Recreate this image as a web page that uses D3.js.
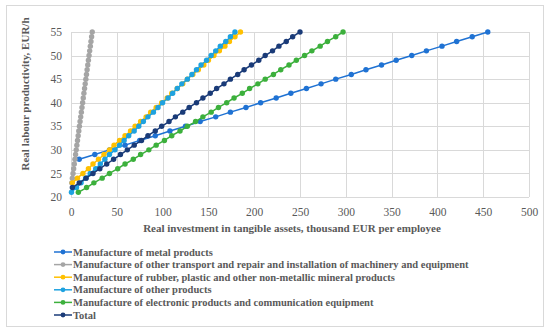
<!DOCTYPE html>
<html>
<head>
<meta charset="utf-8">
<script src="https://cdn.jsdelivr.net/npm/d3@7"></script>
<style>
  body { margin: 0; background: #fff; }
  svg { display: block; }
  text { font-family: "Liberation Serif", "Times New Roman", serif; fill: #595959; }
</style>
</head>
<body>
<div id="chart"></div>
<script>
// values: x = investment, y = productivity (one point per EUR/h)
const seriesNames = [
  "Manufacture of metal products",
  "Manufacture of other transport  and repair and installation of machinery and equipment",
  "Manufacture of rubber, plastic and other non-metallic mineral products",
  "Manufacture of other products",
  "Manufacture of electronic products and communication equipment",
  "Total"
];
const seriesColors = ["#1f72d3", "#a5a5a5", "#ffc000", "#1ea2e0", "#3cb03c", "#1a3b78"];

const yStart = [28, 23, 23, 21, 21, 22];

const metalX = [9, 26, 42, 59, 75, 92, 108, 125, 141, 158, 174, 191, 207, 224,
  240, 257, 273, 289, 306, 322, 339, 355, 372, 388, 405, 421, 438, 455];
const transportX = [0.8, 1.5, 2.2, 2.9, 3.6, 4.3, 5.0, 5.7, 6.4, 7.1, 7.8, 8.5, 9.2,
  9.9, 10.6, 11.3, 12.0, 12.7, 13.4, 14.1, 14.8, 15.5, 16.2, 16.9, 17.6, 18.3, 19.0,
  19.7, 20.4, 21.1, 21.8, 22.5, 23.2];
const rubberX = [1.5, 7, 13, 19, 24, 30, 36, 42, 47, 53, 59, 65, 70, 76, 82, 87,
  93, 99, 105, 110, 116, 122, 127, 133, 139, 145, 150, 156, 162, 168, 173, 179, 185];
const otherX = [0.5, 6, 11, 16, 21, 27, 32, 37, 42, 48, 53, 58, 63, 69, 74, 79, 84,
  90, 95, 100, 106, 111, 116, 121, 127, 132, 137, 142, 148, 153, 158, 163, 169, 174, 179];
const electronicX = [8, 17, 25, 34, 42, 51, 59, 68, 76, 85, 93, 102, 110, 119, 127,
  136, 144, 153, 161, 170, 178, 187, 195, 204, 212, 221, 229, 238, 246, 255, 263,
  272, 280, 289, 297];
const totalX = [1.5, 9, 16.5, 24, 31.5, 39, 46.5, 54, 61.5, 69, 77, 84, 92, 99, 107,
  114, 122, 129, 137, 144, 152, 159, 167, 174, 182, 189, 197, 205, 212, 220, 227,
  235, 242, 250];

const seriesX = [metalX, transportX, rubberX, otherX, electronicX, totalX];

const xTicks = [0, 50, 100, 150, 200, 250, 300, 350, 400, 450, 500];
const yTicks = [20, 25, 30, 35, 40, 45, 50, 55];

const width = 550, height = 333;
const plot = { left: 71, right: 529, top: 32, bottom: 197 };

const svg = d3.select("#chart").append("svg")
  .attr("width", width)
  .attr("height", height);

svg.append("rect")
  .attr("x", 6.5).attr("y", 5.5)
  .attr("width", 537).attr("height", 321)
  .attr("fill", "#fff")
  .attr("stroke", "#d9d9d9");

const x = d3.scaleLinear().domain([0, 500]).range([plot.left, plot.right]);
const y = d3.scaleLinear().domain([20, 55]).range([plot.bottom, plot.top]);

const grid = svg.append("g").attr("class", "grid");
grid.selectAll(".vgrid").data(xTicks).join("line")
  .attr("x1", (d) => Math.round(x(d)) + 0.5).attr("x2", (d) => Math.round(x(d)) + 0.5)
  .attr("y1", plot.top).attr("y2", plot.bottom)
  .attr("stroke", "#d9d9d9");
grid.selectAll(".hgrid").data(yTicks).join("line")
  .attr("y1", (d) => Math.round(y(d)) + 0.5).attr("y2", (d) => Math.round(y(d)) + 0.5)
  .attr("x1", plot.left).attr("x2", plot.right)
  .attr("stroke", "#d9d9d9");

// tick labels via axes, with domain and tick lines hidden
const xAxis = svg.append("g")
  .attr("transform", `translate(0,${plot.bottom})`)
  .call(d3.axisBottom(x).tickValues(xTicks).tickSize(0).tickPadding(11));
const yAxis = svg.append("g")
  .attr("transform", `translate(${plot.left},0)`)
  .call(d3.axisLeft(y).tickValues(yTicks).tickSize(0).tickPadding(9));
[xAxis, yAxis].forEach((g) => {
  g.select(".domain").remove();
  g.selectAll("text")
    .style("font-family", '"Liberation Serif", serif')
    .style("font-size", "11.5px")
    .attr("fill", "#595959");
});

svg.append("text")
  .attr("transform", "translate(29,94) rotate(-90)")
  .attr("text-anchor", "middle")
  .style("font-size", "11px")
  .style("font-weight", "bold")
  .text("Real labour productivity, EUR/h");

svg.append("text")
  .attr("x", 292).attr("y", 232)
  .attr("text-anchor", "middle")
  .style("font-size", "11px")
  .style("font-weight", "bold")
  .text("Real investment in tangible assets, thousand EUR per employee");

const series = seriesNames.map((name, i) => ({
  name,
  color: seriesColors[i],
  points: seriesX[i].map((v, j) => ({ x: v, y: yStart[i] + j }))
}));

const line = d3.line().x((d) => x(d.x)).y((d) => y(d.y));

const lines = svg.append("g").attr("class", "series")
  .selectAll("g").data(series).join("g");

lines.append("path")
  .attr("d", (d) => line(d.points))
  .attr("fill", "none")
  .attr("stroke", (d) => d.color)
  .attr("stroke-width", 1.5);

lines.selectAll("circle").data((d) => d.points.map((p) => ({ ...p, color: d.color })))
  .join("circle")
  .attr("cx", (d) => x(d.x))
  .attr("cy", (d) => y(d.y))
  .attr("r", 2.7)
  .attr("fill", (d) => d.color);

const legend = svg.append("g").attr("class", "legend")
  .selectAll("g").data(series).join("g")
  .attr("transform", (d, i) => `translate(54,${252 + i * 12.6})`);

legend.append("line")
  .attr("x1", 0).attr("x2", 18)
  .attr("stroke", (d) => d.color)
  .attr("stroke-width", 1.5);
legend.append("circle")
  .attr("cx", 9).attr("r", 2.4)
  .attr("fill", (d) => d.color);
legend.append("text")
  .attr("x", 19).attr("dy", "0.35em")
  .style("font-size", "10.5px")
  .style("font-weight", "bold")
  .text((d) => d.name);
</script>
</body>
</html>
